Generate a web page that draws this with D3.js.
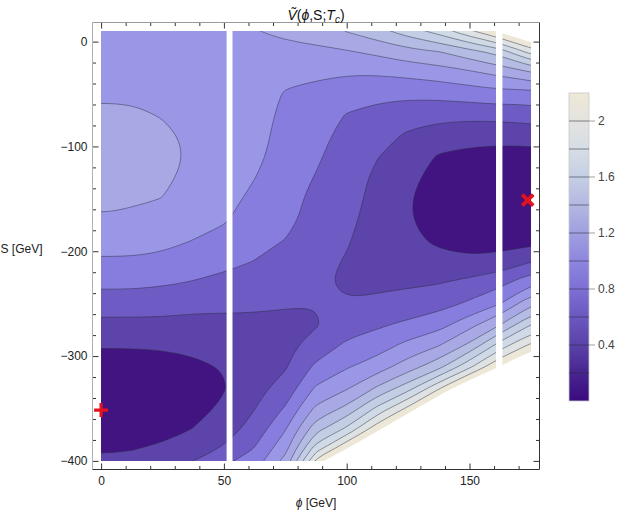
<!DOCTYPE html>
<html>
<head>
<meta charset="utf-8">
<script src="https://cdn.jsdelivr.net/npm/d3@7"></script>
<style>
  body { margin: 0; background: #fff; }
  svg { display: block; font-family: "Liberation Sans", Arial, sans-serif; }
</style>
</head>
<body>
<svg id="chart" width="629" height="512"></svg>
<script>
// Sample grid of the potential (phi and S in GeV).
// The outer column / rows sit just outside the plotted box so the contours close off-screen.
const phiGrid = [-12.5, 0, 12.5, 25, 37.5, 50, 62.5, 75, 87.5, 100, 112.5, 125, 137.5, 150, 162.5, 175, 187.5];
const sGrid = [30, 10, -10, -30, -50, -70, -90, -110, -130, -150, -170, -190, -210, -230, -250, -270, -290, -310, -330, -350, -370, -390, -410, -430];

// one array per phi column, values top (S=30) to bottom (S=-430)
const potential = [
  /* -12.5 */ [0.89, 0.91, 0.94, 0.965, 0.985, 1.015, 1.05, 1.07, 1.05, 1.02, 0.97, 0.885, 0.77, 0.64, 0.51, 0.34, 0.21, 0.14, 0.105, 0.09, 0.12, 0.2, 0.29, 0.42],
  /* 0     */ [0.88, 0.9, 0.93, 0.96, 0.985, 1.02, 1.08, 1.1, 1.08, 1.04, 0.985, 0.89, 0.77, 0.64, 0.51, 0.34, 0.21, 0.14, 0.1, 0.085, 0.11, 0.185, 0.27, 0.4],
  /* 12.5  */ [0.89, 0.91, 0.94, 0.965, 0.985, 1.015, 1.05, 1.07, 1.05, 1.02, 0.97, 0.885, 0.77, 0.64, 0.51, 0.34, 0.21, 0.14, 0.105, 0.09, 0.12, 0.2, 0.29, 0.42],
  /* 25    */ [0.9, 0.92, 0.945, 0.965, 0.98, 0.995, 1.02, 1.04, 1.025, 0.998, 0.95, 0.86, 0.745, 0.62, 0.5, 0.34, 0.215, 0.15, 0.12, 0.115, 0.145, 0.235, 0.4, 0.6],
  /* 37.5  */ [0.92, 0.94, 0.955, 0.965, 0.97, 0.975, 0.98, 0.98, 0.965, 0.935, 0.88, 0.795, 0.69, 0.59, 0.465, 0.33, 0.235, 0.17, 0.145, 0.15, 0.205, 0.31, 0.48, 0.7],
  /* 50    */ [0.95, 0.965, 0.97, 0.97, 0.965, 0.955, 0.945, 0.93, 0.91, 0.875, 0.82, 0.74, 0.65, 0.55, 0.45, 0.34, 0.26, 0.21, 0.19, 0.225, 0.3, 0.44, 0.64, 0.95],
  /* 62.5  */ [1.02, 0.995, 0.975, 0.955, 0.935, 0.91, 0.88, 0.85, 0.803, 0.75, 0.7, 0.655, 0.595, 0.515, 0.43, 0.36, 0.32, 0.31, 0.34, 0.395, 0.48, 0.62, 0.78, 1.05],
  /* 75    */ [1.08, 1.03, 0.96, 0.86, 0.78, 0.74, 0.72, 0.705, 0.69, 0.67, 0.65, 0.595, 0.53, 0.46, 0.41, 0.37, 0.355, 0.38, 0.47, 0.62, 0.79, 0.95, 1.19, 1.5],
  /* 87.5  */ [1.17, 1.1, 0.95, 0.83, 0.75, 0.7, 0.66, 0.625, 0.59, 0.55, 0.53, 0.49, 0.46, 0.43, 0.403, 0.385, 0.47, 0.64, 0.82, 1.04, 1.33, 1.75, 2.4, 3.2],
  /* 100   */ [1.32, 1.21, 0.98, 0.815, 0.69, 0.59, 0.54, 0.51, 0.48, 0.46, 0.44, 0.415, 0.385, 0.37, 0.41, 0.5, 0.64, 0.78, 0.97, 1.25, 1.65, 2.25, 2.9, 3.6],
  /* 112.5 */ [1.6, 1.33, 1.04, 0.82, 0.64, 0.55, 0.46, 0.405, 0.365, 0.35, 0.33, 0.31, 0.32, 0.36, 0.44, 0.57, 0.71, 0.9, 1.22, 1.65, 2.15, 2.7, 3.3, 3.9],
  /* 125   */ [1.85, 1.5, 1.13, 0.85, 0.65, 0.47, 0.375, 0.31, 0.255, 0.215, 0.215, 0.245, 0.3, 0.37, 0.48, 0.64, 0.86, 1.1, 1.5, 2.05, 2.7, 3.3, 3.9, 4.5],
  /* 137.5 */ [2.1, 1.68, 1.19, 0.89, 0.66, 0.46, 0.3, 0.18, 0.12, 0.105, 0.115, 0.165, 0.26, 0.39, 0.53, 0.72, 0.995, 1.33, 1.95, 2.6, 3.2, 3.8, 4.4, 5.0],
  /* 150   */ [2.5, 1.96, 1.32, 0.96, 0.69, 0.46, 0.25, 0.16, 0.1, 0.085, 0.09, 0.14, 0.23, 0.46, 0.63, 0.93, 1.25, 1.75, 2.45, 3.1, 3.7, 4.3, 4.9, 5.5],
  /* 162.5 */ [3.0, 2.25, 1.48, 1.05, 0.73, 0.47, 0.25, 0.14, 0.085, 0.07, 0.08, 0.12, 0.27, 0.54, 0.795, 1.195, 1.7, 2.21, 2.9, 3.5, 4.1, 4.7, 5.3, 5.9],
  /* 175   */ [3.3, 2.6, 1.87, 1.17, 0.7, 0.5, 0.26, 0.14, 0.08, 0.06, 0.075, 0.14, 0.395, 0.75, 1.15, 1.595, 2.05, 2.6, 3.2, 3.8, 4.4, 5.0, 5.6, 6.2],
  /* 187.5 */ [3.8, 3.0, 2.1, 1.35, 0.8, 0.55, 0.28, 0.15, 0.08, 0.06, 0.075, 0.15, 0.45, 0.85, 1.3, 1.79, 2.3, 2.9, 3.5, 4.1, 4.7, 5.3, 5.9, 6.5]
];

// plotted box and the two strips with no data
const phiRange = [0, 175];
const sRange = [-400, 10];
const gaps = [[51.1, 53.5], [160.8, 163.4]];

// contour bands (plot range 0 .. 2.2)
const bandEdges = [0, 0.2, 0.4, 0.6, 0.8, 1.0, 1.2, 1.4, 1.6, 1.8, 2.0, 2.2];
const bandColors = ['#421482', '#5c44aa', '#6e5cc4', '#877ddf', '#9a97e6', '#a8a9e4',
  '#b5bce3', '#c3cde4', '#d0dae6', '#dee2e3', '#ece7d6'];

// colour bar gradient
const legendStops = [0, 0.2, 0.4, 0.6, 0.8, 1.0, 1.2, 1.4, 1.6, 1.8, 2.0, 2.2];
const legendColors = ['#3a0a80', '#48258f', '#5a42a8', '#6b58bf', '#7d6fd5', '#8e86de',
  '#a09fe0', '#b3b8e1', '#c5cfe4', '#d6dde5', '#e3e3df', '#eee8d5'];
const legendTicks = [0.4, 0.8, 1.2, 1.6, 2];

// axis ticks
const phiMajor = [0, 50, 100, 150];
const phiMinor = [10, 20, 30, 40, 60, 70, 80, 90, 110, 120, 130, 140, 160, 170];
const sMajor = [0, -100, -200, -300, -400];
const sMinor = [-20, -40, -60, -80, -120, -140, -160, -180, -220, -240, -260, -280, -320, -340, -360, -380];

// the two degenerate minima
const minima = [
  { phi: 0, s: -351.5, shape: 'plus' },
  { phi: 173.7, s: -151.3, shape: 'cross' }
];

const svg = d3.select('#chart');

// scales for the framed area
const x = d3.scaleLinear().domain([-3.5, 178.5]).range([92.5, 539.5]);
const y = d3.scaleLinear().domain([18.2, -408.2]).range([22.5, 469.5]);

svg.append('defs')
  .append('clipPath')
  .attr('id', 'plot-clip')
  .append('rect')
  .attr('x', x(phiRange[0]))
  .attr('y', y(sRange[1]))
  .attr('width', x(phiRange[1]) - x(phiRange[0]))
  .attr('height', y(sRange[0]) - y(sRange[1]));

// flatten the grid row by row for d3.contours
const nx = phiGrid.length;
const ny = sGrid.length;
const values = [];
sGrid.forEach((s, j) => phiGrid.forEach((p, i) => values.push(potential[i][j])));

// grid coordinates -> pixels (samples sit at cell centres)
const gx = d3.scaleLinear().domain([0.5, nx - 0.5]).range([x(phiGrid[0]), x(phiGrid[nx - 1])]);
const gy = d3.scaleLinear().domain([0.5, ny - 0.5]).range([y(sGrid[0]), y(sGrid[ny - 1])]);

const contours = d3.contours().size([nx, ny]).thresholds(bandEdges)(values);

const ringLine = d3.line().curve(d3.curveBasisClosed);
const toPath = (c) =>
  c.coordinates
    .map((poly) => poly.map((ring) => ringLine(ring.slice(0, -1).map((p) => [gx(p[0]), gy(p[1])]))).join(''))
    .join('');

const plot = svg.append('g').attr('clip-path', 'url(#plot-clip)');

// filled bands, painted low to high; above the plot range stays white
plot
  .selectAll('.band')
  .data(contours)
  .join('path')
  .attr('class', 'band')
  .attr('d', toPath)
  .attr('fill', (d, i) => (i < bandColors.length ? bandColors[i] : '#fff'))
  .attr('fill-rule', 'evenodd');

// contour lines
plot
  .selectAll('.iso')
  .data(contours.filter((c) => c.value > 0.1 && c.value < 2.1))
  .join('path')
  .attr('class', 'iso')
  .attr('d', toPath)
  .attr('fill', 'none')
  .attr('stroke', '#2a2a3c')
  .attr('stroke-opacity', 0.55)
  .attr('stroke-width', 0.85);

// strips without data
plot
  .selectAll('.gap')
  .data(gaps)
  .join('rect')
  .attr('class', 'gap')
  .attr('x', (d) => x(d[0]))
  .attr('width', (d) => x(d[1]) - x(d[0]))
  .attr('y', y(sRange[1]) - 1)
  .attr('height', y(sRange[0]) - y(sRange[1]) + 2)
  .attr('fill', '#fff');

// frame with inward ticks on all four sides
function tickLayer(axis, transform, labels) {
  const g = svg.append('g').attr('transform', transform).call(axis);
  g.select('.domain').remove();
  g.selectAll('line').attr('stroke', '#333');
  g.selectAll('text')
    .attr('fill', '#222')
    .attr('font-size', 12)
    .attr('font-family', '"Liberation Sans", Arial, sans-serif');
  if (!labels) g.selectAll('text').remove();
  return g;
}
const fmt = d3.format('d');
const xb = y.range()[1];
const xt = y.range()[0];
const yl = x.range()[0];
const yr = x.range()[1];

tickLayer(d3.axisBottom(x).tickValues(phiMajor).tickSizeInner(-6).tickSizeOuter(0).tickPadding(7).tickFormat(fmt), `translate(0,${xb})`, true);
tickLayer(d3.axisBottom(x).tickValues(phiMinor).tickSizeInner(-3.5).tickSizeOuter(0), `translate(0,${xb})`, false);
tickLayer(d3.axisTop(x).tickValues(phiMajor).tickSizeInner(-6).tickSizeOuter(0), `translate(0,${xt})`, false);
tickLayer(d3.axisTop(x).tickValues(phiMinor).tickSizeInner(-3.5).tickSizeOuter(0), `translate(0,${xt})`, false);
tickLayer(d3.axisLeft(y).tickValues(sMajor).tickSizeInner(-6).tickSizeOuter(0).tickPadding(5).tickFormat(fmt), `translate(${yl},0)`, true);
tickLayer(d3.axisLeft(y).tickValues(sMinor).tickSizeInner(-3.5).tickSizeOuter(0), `translate(${yl},0)`, false);
tickLayer(d3.axisRight(y).tickValues(sMajor).tickSizeInner(-6).tickSizeOuter(0), `translate(${yr},0)`, false);
tickLayer(d3.axisRight(y).tickValues(sMinor).tickSizeInner(-3.5).tickSizeOuter(0), `translate(${yr},0)`, false);

const frame = svg.append('g').attr('fill', 'none');
frame.append('line').attr('x1', yl).attr('x2', yr).attr('y1', xt).attr('y2', xt).attr('stroke', '#9a9a9a');
frame.append('line').attr('x1', yl).attr('x2', yl).attr('y1', xt).attr('y2', xb).attr('stroke', '#b0b0b0');
frame.append('line').attr('x1', yl).attr('x2', yr).attr('y1', xb).attr('y2', xb).attr('stroke', '#333');
frame.append('line').attr('x1', yr).attr('x2', yr).attr('y1', xt).attr('y2', xb).attr('stroke', '#333');

// minima markers
svg
  .selectAll('.minimum')
  .data(minima)
  .join('path')
  .attr('class', 'minimum')
  .attr('transform', (d) => `translate(${x(d.phi)},${y(d.s)})`)
  .attr('d', (d) => (d.shape === 'plus' ? 'M-7,0H7M0,-7V7' : 'M-5.5,-5.5L5.5,5.5M-5.5,5.5L5.5,-5.5'))
  .attr('stroke', '#e3121c')
  .attr('stroke-width', (d) => (d.shape === 'plus' ? 3.2 : 3.8))
  .attr('fill', 'none');

// title and axis labels
const title = svg.append('text')
  .attr('x', 316)
  .attr('y', 19.5)
  .attr('text-anchor', 'middle')
  .attr('font-size', 14)
  .attr('fill', '#111');
title.append('tspan').attr('font-style', 'italic').text('V\u0303');
title.append('tspan').text('(');
title.append('tspan').attr('font-style', 'italic').text('\u03d5');
title.append('tspan').text(',S;');
title.append('tspan').attr('font-style', 'italic').text('T');
title.append('tspan').attr('font-style', 'italic').attr('font-size', 10).attr('dy', 3).text('c');
title.append('tspan').attr('dy', -3).text(')');

const xLabel = svg.append('text')
  .attr('x', 316)
  .attr('y', 507)
  .attr('text-anchor', 'middle')
  .attr('font-size', 12)
  .attr('fill', '#222');
xLabel.append('tspan').attr('font-style', 'italic').text('\u03d5');
xLabel.append('tspan').text(' [GeV]');

svg.append('text')
  .attr('x', 0.5)
  .attr('y', 252.5)
  .attr('font-size', 12)
  .attr('fill', '#222')
  .text('S [GeV]');

// colour bar
const cb = { x: 569, w: 20 };
const cbY = d3.scaleLinear().domain([0, 2.2]).range([401, 93]);
const grad = svg.select('defs')
  .append('linearGradient')
  .attr('id', 'cb-grad')
  .attr('x1', 0).attr('x2', 0).attr('y1', 1).attr('y2', 0);
grad.selectAll('stop')
  .data(legendStops)
  .join('stop')
  .attr('offset', (d) => d / 2.2)
  .attr('stop-color', (d, i) => legendColors[i]);

const legend = svg.append('g').attr('id', 'legend');
legend.append('rect')
  .attr('x', cb.x)
  .attr('y', cbY(2.2))
  .attr('width', cb.w)
  .attr('height', cbY(0) - cbY(2.2))
  .attr('fill', 'url(#cb-grad)')
  .attr('stroke', '#c8c8c8')
  .attr('stroke-width', 0.8);
legend.selectAll('.cb-line')
  .data(bandEdges.slice(1, -1))
  .join('line')
  .attr('class', 'cb-line')
  .attr('x1', cb.x)
  .attr('x2', cb.x + cb.w)
  .attr('y1', (d) => cbY(d))
  .attr('y2', (d) => cbY(d))
  .attr('stroke', '#2a2a3c')
  .attr('stroke-opacity', 0.6)
  .attr('stroke-width', 0.9);
legend.selectAll('.cb-tick')
  .data(legendTicks)
  .join('line')
  .attr('class', 'cb-tick')
  .attr('x1', cb.x + cb.w)
  .attr('x2', cb.x + cb.w + 6)
  .attr('y1', (d) => cbY(d))
  .attr('y2', (d) => cbY(d))
  .attr('stroke', '#a0a0a0');
legend.selectAll('.cb-label')
  .data(legendTicks)
  .join('text')
  .attr('class', 'cb-label')
  .attr('x', cb.x + cb.w + 9)
  .attr('y', (d) => cbY(d) + 4.3)
  .attr('font-size', 12)
  .attr('fill', '#444')
  .text((d) => d);
</script>
</body>
</html>
